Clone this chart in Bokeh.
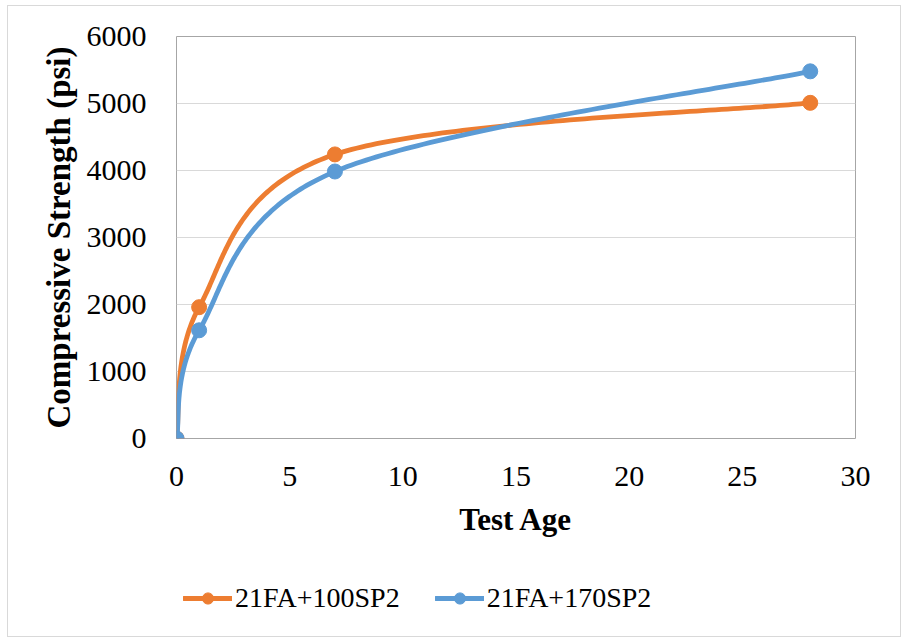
import numpy as np
from bokeh.plotting import figure
from bokeh.layouts import column
from bokeh.models import Range1d, FixedTicker, Legend, LegendItem
from bokeh.embed import file_html
from bokeh.resources import INLINE

# ---- data ----
test_age = [0, 1, 7, 28]
strength_100sp2 = [0, 1960, 4240, 5010]
strength_170sp2 = [0, 1615, 3985, 5480]
series_names = ["21FA+100SP2", "21FA+170SP2"]
series_colors = ["#ED7D31", "#5B9BD5"]
x_ticks = [0, 5, 10, 15, 20, 25, 30]
y_ticks = [0, 1000, 2000, 3000, 4000, 5000, 6000]

FONT = "Liberation Serif"
LINE_W = 4.8


def smooth(xs, ys, n=80):
    """Excel-like smoothed line (Catmull-Rom Bezier through the data points)."""
    P = np.column_stack([xs, ys]).astype(float)
    out = []
    for i in range(len(P) - 1):
        p0 = P[max(i - 1, 0)]
        p1 = P[i]
        p2 = P[i + 1]
        p3 = P[min(i + 2, len(P) - 1)]
        c1 = p1 + (p2 - p0) / 6.0
        c2 = p2 - (p3 - p1) / 6.0
        t = np.linspace(0, 1, n)[:, None]
        seg = ((1 - t) ** 3) * p1 + 3 * ((1 - t) ** 2) * t * c1 + 3 * (1 - t) * (t ** 2) * c2 + (t ** 3) * p2
        out.append(seg if i == 0 else seg[1:])
    pts = np.vstack(out)
    return pts[:, 0], pts[:, 1]


p = figure(width=892, height=554,
           x_range=Range1d(0, 30), y_range=Range1d(0, 6000),
           output_backend="svg", toolbar_location=None,
           min_border_left=168, min_border_right=45,
           min_border_top=30, min_border_bottom=122)
p.background_fill_color = "white"
p.border_fill_color = "white"
p.outline_line_color = "#a6a6a6"
p.outline_line_width = 1

# grid
p.xgrid.visible = False
p.ygrid.ticker = FixedTicker(ticks=y_ticks)
p.ygrid.grid_line_color = "#d9d9d9"
p.ygrid.grid_line_width = 1

# axes
for ax in (p.xaxis[0], p.yaxis[0]):
    ax.axis_line_color = None
    ax.major_tick_line_color = None
    ax.minor_tick_line_color = None
    ax.major_label_text_font = FONT
    ax.major_label_text_font_size = "30px"
    ax.major_label_text_color = "black"
    ax.axis_label_text_font = FONT
    ax.axis_label_text_font_style = "bold"
    ax.axis_label_text_color = "black"

p.xaxis.axis_label_text_font_size = "31px"
p.yaxis.axis_label_text_font_size = "33px"
p.xaxis.ticker = FixedTicker(ticks=x_ticks)
p.yaxis.ticker = FixedTicker(ticks=y_ticks)
p.xaxis.axis_label = "Test Age"
p.yaxis.axis_label = "Compressive Strength (psi)"
p.xaxis.major_label_standoff = 22
p.xaxis.axis_label_standoff = 13
p.yaxis.major_label_standoff = 24
p.yaxis.axis_label_standoff = 7

for ys, col in zip([strength_100sp2, strength_170sp2], series_colors):
    sx, sy = smooth(test_age, ys)
    p.line(sx, sy, line_color=col, line_width=LINE_W, line_cap="round", line_join="round")
    p.scatter(test_age, ys, marker="circle", size=15, fill_color=col, line_color=col)

# ---- legend strip below the chart ----
lp = figure(width=892, height=76, x_range=Range1d(0, 1), y_range=Range1d(0, 1),
            x_axis_type=None, y_axis_type=None,
            output_backend="svg", toolbar_location=None, min_border=0)
lp.xgrid.visible = False
lp.ygrid.visible = False
lp.outline_line_color = None
lp.background_fill_color = "white"
lp.border_fill_color = "white"

items = []
for name, col in zip(series_names, series_colors):
    lr = lp.line(x=[np.nan], y=[np.nan], line_color=col, line_width=LINE_W, line_cap="round")
    sr = lp.scatter(x=[np.nan], y=[np.nan], marker="circle", size=12, fill_color=col, line_color=col)
    items.append(LegendItem(label=name, renderers=[lr, sr]))

legend = Legend(items=items, orientation="horizontal", location=(7, 22),
                label_text_font=FONT, label_text_font_size="28px", label_text_color="black",
                glyph_width=49, glyph_height=28, label_standoff=3, spacing=35,
                padding=0, margin=0, border_line_color=None, background_fill_alpha=0)
lp.add_layout(legend, "center")

layout = column(p, lp, spacing=0)
layout.margin = (5, 0, 0, 7)
layout.styles = {"border": "1px solid #d9d9d9", "width": "fit-content"}

open("out.html", "w").write(file_html(layout, INLINE))
